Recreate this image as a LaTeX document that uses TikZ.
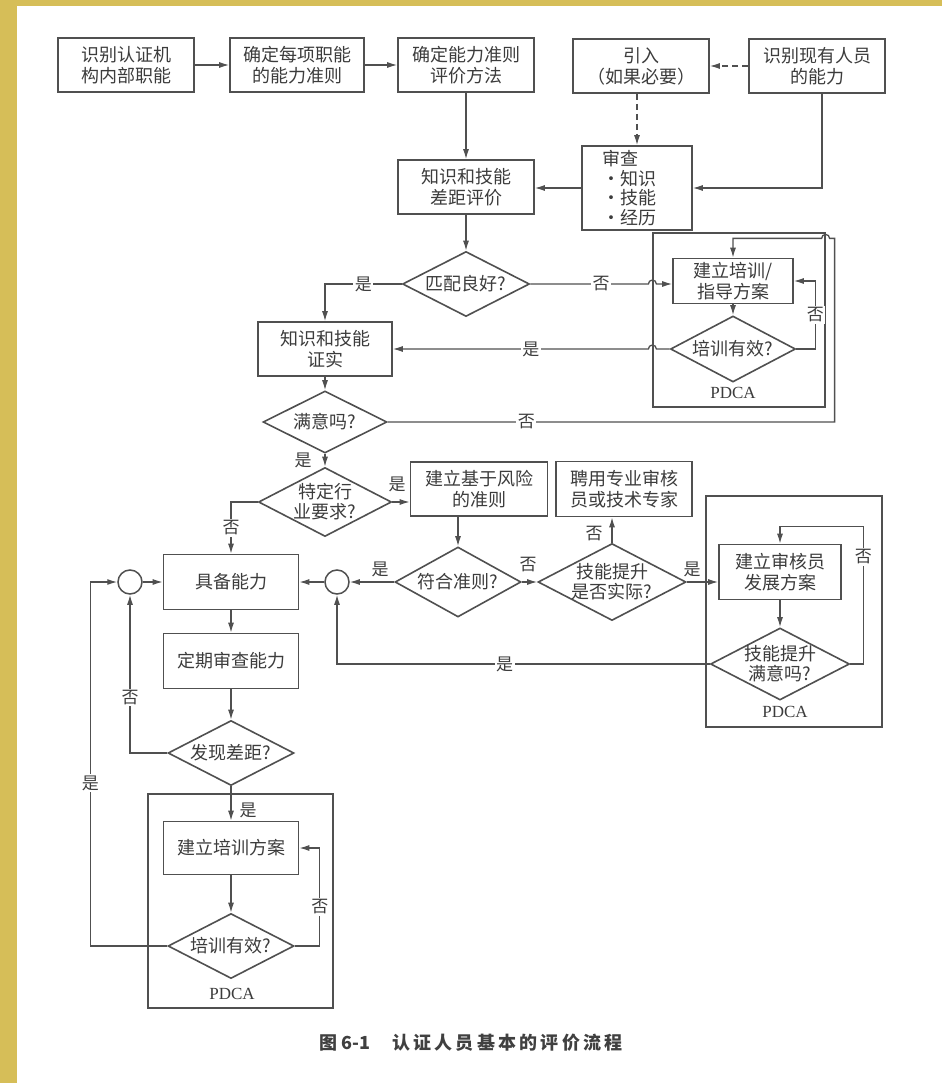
\documentclass[tikz,border=0pt]{standalone}
\usepackage{fontspec}
\setmainfont{Liberation Serif}
\newfontfamily\cjk{Noto Sans CJK SC}
\usetikzlibrary{shapes.geometric,arrows.meta,calc}
\definecolor{lc}{HTML}{505050}
\definecolor{tx}{HTML}{3C3C3C}
\definecolor{bgc}{RGB}{214,190,88}
\begin{document}
\begin{tikzpicture}[x=1pt,y=-1pt,
 box/.style={draw=lc,line width=1.6pt,inner sep=0pt,align=center,text=tx,font=\cjk\fontsize{18}{21}\selectfont},
 dia/.style={draw=lc,line width=1.6pt,shape=diamond,inner sep=0pt},
 dt/.style={align=center,inner sep=0pt,text=tx,font=\cjk\fontsize{18}{20}\selectfont},
 conn/.style={draw=lc,line width=1.3pt},
 arr/.style={conn,-{Latex[length=10pt,width=6pt]}},
 lab/.style={fill=white,inner sep=1.5pt,text=tx,font=\cjk\fontsize{17}{17}\selectfont},
 tag/.style={inner sep=0pt,text=tx,font=\cjk\fontsize{17}{17}\selectfont},
 frame/.style={draw=lc,line width=1.2pt,inner sep=0pt},
 junc/.style={circle,draw=lc,line width=1.5pt,minimum size=24pt,inner sep=0pt},
 pdca/.style={inner sep=0pt,text=tx,font=\fontsize{17}{17}\selectfont}
]
\fill[bgc] (0,0) rectangle (942,1083);
\fill[white] (17,6) rectangle (942,1083);
\useasboundingbox (0,0) rectangle (942,1083);

% top row
\node[box,minimum width=136pt,minimum height=54pt] (b1) at (126,65) {识别认证机\\构内部职能};
\node[box,minimum width=134pt,minimum height=54pt] (b2) at (297,65) {确定每项职能\\的能力准则};
\node[box,minimum width=136pt,minimum height=54pt] (b3) at (466,65) {确定能力准则\\评价方法};
\node[box,minimum width=136pt,minimum height=54pt] (b4) at (641,66) {引入\\（如果必要）};
\node[box,minimum width=136pt,minimum height=54pt] (b5) at (817,66) {识别现有人员\\的能力};

\node[box,minimum width=110pt,minimum height=84pt] (rev) at (637,188) {};
\node[anchor=west,align=left,inner sep=0pt,text=tx,font=\cjk\fontsize{18}{19.5}\selectfont] (revt) at (602,188)
 {审查\\\makebox[18pt]{•}知识\\\makebox[18pt]{•}技能\\\makebox[18pt]{•}经历};
\node[box,minimum width=136pt,minimum height=54pt] (gap) at (466,187) {知识和技能\\差距评价};

\node[dia,minimum width=127pt,minimum height=65pt] (d1) at (466,284) {};
\node[dt] (d1t) at (d1) {匹配良好?};
\node[box,minimum width=134pt,minimum height=54pt] (conf) at (325,349) {知识和技能\\证实};

\node[frame,minimum width=172pt,minimum height=174pt] (f1) at (739,320) {};
\node[box,minimum width=120pt,minimum height=45pt] (t1) at (733,281) {建立培训/\\指导方案};
\node[dia,minimum width=125pt,minimum height=66pt] (d2) at (733,349) {};
\node[dt] (d2t) at (d2) {培训有效?};
\node[pdca] (p1) at (733,393) {PDCA};

\node[dia,minimum width=124pt,minimum height=62pt] (d3) at (325,422) {};
\node[dt] (d3t) at (d3) {满意吗?};
\node[dia,minimum width=133pt,minimum height=69pt] (d4) at (325,502) {};
\node[dt] (d4t) at (d4) {特定行\\业要求?};
\node[box,minimum width=137pt,minimum height=54pt] (b6) at (479,489) {建立基于风险\\的准则};
\node[dia,minimum width=126pt,minimum height=70pt] (d5) at (458,582) {};
\node[dt] (d5t) at (d5) {符合准则?};
\node[junc] (c2) at (337,582) {};
\node[box,minimum width=135pt,minimum height=55pt] (b7) at (231,582) {具备能力};
\node[junc] (c1) at (130,582) {};
\node[dia,minimum width=148pt,minimum height=77pt] (d6) at (612,582) {};
\node[dt] (d6t) at (d6) {技能提升\\是否实际?};
\node[box,minimum width=136pt,minimum height=55pt] (b8) at (624,489) {聘用专业审核\\员或技术专家};

\node[frame,minimum width=176pt,minimum height=231pt] (f2) at (794,611.5) {};
\node[box,minimum width=122pt,minimum height=55pt] (b9) at (780,572) {建立审核员\\发展方案};
\node[dia,minimum width=139pt,minimum height=72pt] (d7) at (780,664) {};
\node[dt] (d7t) at (d7) {技能提升\\满意吗?};
\node[pdca] (p2) at (785,712) {PDCA};

\node[box,minimum width=135pt,minimum height=55pt] (b10) at (231,661) {定期审查能力};
\node[dia,minimum width=126pt,minimum height=65pt] (d8) at (231,753) {};
\node[dt] (d8t) at (d8) {发现差距?};
\node[frame,minimum width=185pt,minimum height=214pt] (f3) at (240.5,901) {};
\node[box,minimum width=135pt,minimum height=53pt] (b11) at (231,848) {建立培训方案};
\node[dia,minimum width=126pt,minimum height=65pt] (d9) at (231,946) {};
\node[dt] (d9t) at (d9) {培训有效?};
\node[pdca] (p3) at (232,994) {PDCA};

% caption
\node[inner sep=0pt,text=black!75,font=\cjk\bfseries\fontsize{18}{18}\selectfont] (cap) at (471,1043)
 {图 6-1\hspace{22pt}\addfontfeature{LetterSpace=18}认证人员基本的评价流程};

% connectors
\draw[arr] (b1.east) -- (b2.west);
\draw[arr] (b2.east) -- (b3.west);
\draw[arr,dash pattern=on 6pt off 4pt] (b5.west) -- (b4.east);
\draw[arr,dash pattern=on 6pt off 4pt] (b4.south -| rev.north) -- (rev.north);
\draw[arr] ($(b5.south)+(5,0)$) |- (rev.east);
\draw[arr] (rev.west) -- (rev.west -| gap.east);
\draw[arr] (b3.south -| gap.north) -- (gap.north);
\draw[arr] (gap.south) -- (d1.north);

\draw[arr] (d1.west) -| node[lab,pos=0.25]{是} (conf.north);
\coordinate (j1) at (d1.east -| f1.west);
\draw[arr] (d1.east) -- node[lab,pos=0.6]{否} ($(j1)+(-4,0)$) arc[start angle=180,end angle=0,radius=4pt] -- (t1.west |- d1.east);
\draw[arr] (t1.south) -- (d2.north);
\draw[arr] (d2.east) -- ++(19,0) |- node[lab,pos=0.25]{否} (t1.east);
\coordinate (j2) at (d2.west -| f1.west);
\draw[arr] (d2.west) -- ($(j2)+(4,0)$) arc[start angle=0,end angle=180,radius=4pt] -- node[lab,pos=0.46]{是} (conf.east);

\draw[arr] (conf.south) -- (d3.north);
\coordinate (top) at ($(f1.north east)+(9,6)$);
\draw[arr] (d3.east) -- node[lab,pos=0.31]{否} (d3.east -| top) -- (top) -- ($(top -| f1.east)+(4,0)$) arc[start angle=0,end angle=180,radius=4pt] -- (t1.north |- top) -- (t1.north);

\draw[arr] (d3.south) -- (d4.north);
\node[tag] (l1) at (303,460) {是};
\draw[arr] (d4.east) -- (d4.east -| b6.west);
\node[tag] (l2) at (397,484) {是};
\draw[arr] (d4.west) -| node[lab,pos=0.75]{否} (b7.north);
\draw[arr] (b6.south -| d5.north) -- (d5.north);
\draw[arr] (d5.west) -- (c2.east);
\node[tag] (l3) at (380,569) {是};
\draw[arr] (c2.west) -- (b7.east);
\draw[arr] (d5.east) -- (d6.west);
\node[tag] (l4) at (528,565) {否};
\draw[arr] (d6.north) -- (d6.north |- b8.south);
\node[tag] (l5) at (594,534) {否};
\draw[arr] (d6.east) -- (d6.east -| b9.west);
\node[tag] (l6) at (692,569) {是};
\draw[arr] (b9.south) -- (d7.north);
\draw[arr] (d7.east) -- ++(13,0) |- node[lab,pos=0.39]{否} ($(b9.north)+(0,-17)$) -- (b9.north);
\draw[arr] (d7.west) -| node[lab,pos=0.275]{是} (c2.south);

\draw[arr] (b7.south) -- (b10.north);
\draw[arr] (b10.south) -- (d8.north);
\draw[arr] (d8.west) -| node[lab,pos=0.675]{否} (c1.south);
\draw[arr] (d8.south) -- (b11.north);
\node[tag] (l7) at (248,810) {是};
\draw[arr] (b11.south) -- (d9.north);
\draw[arr] (d9.east) -- ++(25,0) |- node[lab,pos=0.2]{否} (b11.east);
\draw[arr] (d9.west) -| node[lab,pos=0.724]{是} ($(c1.west)+(-27,0)$) -- (c1.west);
\draw[arr] (c1.east) -- (b7.west);
\end{tikzpicture}
\end{document}
